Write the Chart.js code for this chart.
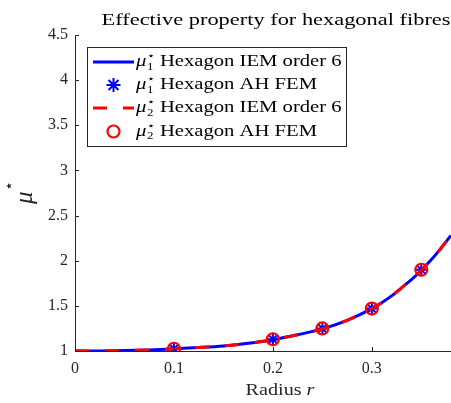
<!DOCTYPE html>
<html><head><meta charset="utf-8">
<script src="https://cdn.jsdelivr.net/npm/chart.js@4"></script>
<style>html,body{margin:0;padding:0;background:#fff}#wrap{width:451px;height:403px}</style>
</head><body><div id="wrap"><canvas id="c" width="451" height="403"></canvas></div>
<script>
const titleText = 'Effective property for hexagonal fibres';
const xLabelText = 'Radius ';
const xLabelVar = 'r';
const curveR = [0, 0.025, 0.05, 0.075, 0.1, 0.125, 0.15, 0.175, 0.2, 0.225, 0.25, 0.275, 0.3, 0.31, 0.32, 0.33, 0.34, 0.35, 0.36, 0.37, 0.38];
const mu1Curve = [1.000, 1.001, 1.005, 1.012, 1.024, 1.038, 1.056, 1.085, 1.125, 1.18, 1.245, 1.34, 1.47, 1.535, 1.61, 1.70, 1.79, 1.895, 2.01, 2.14, 2.28];
const mu2Curve = [1.000, 1.001, 1.005, 1.012, 1.024, 1.038, 1.056, 1.085, 1.125, 1.18, 1.245, 1.34, 1.47, 1.535, 1.61, 1.70, 1.79, 1.895, 2.01, 2.14, 2.28];
const femR = [0.1, 0.2, 0.25, 0.3, 0.35];
const mu1Fem = [1.025, 1.13, 1.25, 1.47, 1.90];
const mu2Fem = [1.025, 1.13, 1.25, 1.47, 1.90];
const xTicks = [0, 0.1, 0.2, 0.3];
const yTicks = [1, 1.5, 2, 2.5, 3, 3.5, 4, 4.5];
const legendLabels = [
  {sub: '1', text: ' Hexagon IEM order 6'},
  {sub: '1', text: ' Hexagon AH FEM'},
  {sub: '2', text: ' Hexagon IEM order 6'},
  {sub: '2', text: ' Hexagon AH FEM'}
];

const SERIF = '"Liberation Serif", "DejaVu Serif", serif';
const AXC = '#262626';
const STRETCH = 1.29;
const pts = (xs, ys) => xs.map((x, i) => ({x: x, y: ys[i]}));

function drawMu(ctx, x, y, size, sub, raise) {
  ctx.font = 'italic ' + size + 'px ' + SERIF;
  ctx.textBaseline = 'alphabetic';
  ctx.textAlign = 'left';
  ctx.fillText('\u03bc', x, y);
  const w = ctx.measureText('\u03bc').width;
  const s = Math.round(size * 0.62);
  ctx.font = s + 'px ' + SERIF;
  ctx.fillText('\u22c6', x + w + 0.5, y - size * (raise || 0.42));
  let w2 = ctx.measureText('\u22c6').width;
  if (sub) {
    ctx.fillText(sub, x + w + 0.5, y + size * 0.22);
    w2 = Math.max(w2, ctx.measureText(sub).width);
  }
  return x + w + 0.5 + w2;
}

const deco = {
  id: 'deco',
  afterDraw(chart) {
    const ctx = chart.ctx;
    const xs = chart.scales.x, ys = chart.scales.y;
    const ca = chart.chartArea;
    ctx.save();
    // inward ticks
    ctx.strokeStyle = AXC; ctx.lineWidth = 1;
    xs.ticks.forEach(t => {
      const px = Math.round(xs.getPixelForValue(t.value)) + 0.5;
      ctx.beginPath(); ctx.moveTo(px, ca.bottom); ctx.lineTo(px, ca.bottom - 4); ctx.stroke();
    });
    ys.ticks.forEach(t => {
      const py = Math.round(ys.getPixelForValue(t.value)) + 0.5;
      ctx.beginPath(); ctx.moveTo(ca.left, py); ctx.lineTo(ca.left + 4, py); ctx.stroke();
    });
    // title (stretched to mimic the wide LaTeX serif)
    ctx.fillStyle = '#000';
    ctx.font = '17px ' + SERIF;
    ctx.textAlign = 'left'; ctx.textBaseline = 'alphabetic';
    const tw = ctx.measureText(titleText).width;
    const tsx = 349 / tw;
    ctx.save();
    ctx.translate(276 - 349 / 2, 25);
    ctx.scale(tsx, 1);
    ctx.fillText(titleText, 0, 0);
    ctx.restore();
    // x label
    ctx.fillStyle = AXC;
    ctx.save();
    ctx.font = '16px ' + SERIF;
    const w1 = ctx.measureText(xLabelText).width;
    ctx.font = 'italic 16px ' + SERIF;
    const w2 = ctx.measureText(xLabelVar).width;
    const totalW = (w1 + w2) * 1.26;
    ctx.translate(280 - totalW / 2, 395);
    ctx.scale(1.26, 1);
    ctx.font = '16px ' + SERIF;
    ctx.fillText(xLabelText, 0, 0);
    ctx.font = 'italic 16px ' + SERIF;
    ctx.fillText(xLabelVar, w1, 0);
    ctx.restore();
    // y label
    ctx.save();
    ctx.fillStyle = AXC;
    ctx.translate(32, 195);
    ctx.rotate(-Math.PI / 2);
    drawMu(ctx, -9, 0, 25, null, 0.72);
    ctx.restore();
    // legend
    const L = 87.5, T = 47.5, R = 346.5, B = 146.5;
    ctx.fillStyle = '#fff';
    ctx.fillRect(L, T, R - L, B - T);
    ctx.strokeStyle = AXC; ctx.lineWidth = 1;
    ctx.strokeRect(L, T, R - L, B - T);
    const rows = [62, 85, 108, 131.5];
    const dsets = chart.data.datasets;
    legendLabels.forEach((lab, i) => {
      const y = rows[i];
      const ds = dsets[i];
      ctx.save();
      if (ds.showLine) {
        ctx.strokeStyle = ds.borderColor; ctx.lineWidth = ds.borderWidth;
        ctx.setLineDash(ds.borderDash || []);
        ctx.beginPath(); ctx.moveTo(93, y); ctx.lineTo(134, y); ctx.stroke();
      } else {
        ctx.strokeStyle = ds.pointBorderColor;
        ctx.lineWidth = ds.pointBorderWidth;
        ctx.beginPath();
        if (ds.pointStyle === 'circle') {
          ctx.arc(113.5, y, ds.pointRadius, 0, Math.PI * 2);
        } else {
          for (let k = 0; k < 4; k++) {
            const a = k * Math.PI / 4, r = ds.pointRadius + 0.5;
            ctx.moveTo(113.5 - r * Math.cos(a), y - r * Math.sin(a));
            ctx.lineTo(113.5 + r * Math.cos(a), y + r * Math.sin(a));
          }
        }
        ctx.stroke();
      }
      ctx.restore();
      ctx.save();
      ctx.fillStyle = '#000';
      ctx.translate(136, y + 4);
      ctx.scale(STRETCH, 1);
      const nx = drawMu(ctx, 0, 0, 16, lab.sub, 0.42);
      ctx.font = '16px ' + SERIF;
      ctx.textAlign = 'left';
      ctx.fillText(lab.text, nx, 0);
      ctx.restore();
    });
    ctx.restore();
  }
};

new Chart(document.getElementById('c'), {
  type: 'scatter',
  data: {
    datasets: [
      {label: 'mu1 IEM', data: pts(curveR, mu1Curve), showLine: true, borderColor: '#0000ff', borderWidth: 3, pointRadius: 0, order: 4, cubicInterpolationMode: 'monotone'},
      {label: 'mu1 FEM', data: pts(femR, mu1Fem), showLine: false, pointStyle: 'star', pointRadius: 6.5, pointBorderWidth: 2, pointBorderColor: '#0000ff', pointBackgroundColor: '#0000ff', borderColor: '#0000ff', order: 3},
      {label: 'mu2 IEM', data: pts(curveR, mu2Curve), showLine: true, borderColor: '#ff0000', borderWidth: 3, borderDash: [14, 16], pointRadius: 0, order: 2, cubicInterpolationMode: 'monotone'},
      {label: 'mu2 FEM', data: pts(femR, mu2Fem), showLine: false, pointStyle: 'circle', pointRadius: 6, pointBorderWidth: 2.2, pointBorderColor: '#ff0000', pointBackgroundColor: 'rgba(0,0,0,0)', borderColor: '#ff0000', order: 1}
    ]
  },
  options: {
    responsive: false,
    animation: false,
    layout: {autoPadding: false, padding: {top: 35, right: 0, left: 0, bottom: 0}},
    plugins: {legend: {display: false}, tooltip: {enabled: false}, title: {display: false}},
    scales: {
      x: {
        type: 'linear', min: 0, max: 0.38,
        afterBuildTicks: s => { s.ticks = xTicks.map(v => ({value: v})); },
        afterFit: s => { s.height = 52; s.paddingLeft = 0; s.paddingRight = 0; },
        grid: {drawOnChartArea: false, drawTicks: false},
        border: {display: true, color: AXC, width: 1},
        ticks: {padding: 8, color: AXC, font: {family: SERIF, size: 16}, callback: v => String(v), maxRotation: 0}
      },
      y: {
        type: 'linear', min: 1, max: 4.5,
        afterBuildTicks: s => { s.ticks = yTicks.map(v => ({value: v})); },
        afterFit: s => { s.width = 75; s.paddingTop = 0; s.paddingBottom = 0; },
        grid: {drawOnChartArea: false, drawTicks: false},
        border: {display: true, color: AXC, width: 1},
        ticks: {padding: 7, color: AXC, font: {family: SERIF, size: 16}, callback: v => String(v)}
      }
    }
  },
  plugins: [deco]
});
</script>
</body></html>
